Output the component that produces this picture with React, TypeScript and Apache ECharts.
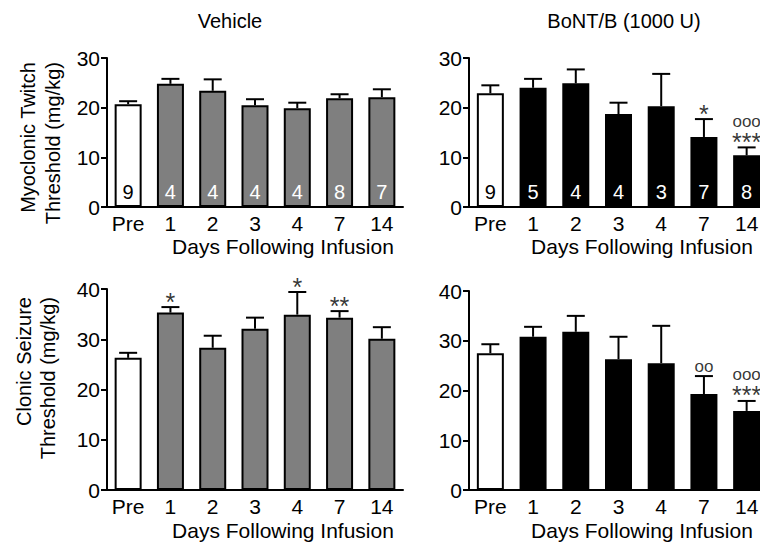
import React, { useEffect, useRef } from "react";
import * as echarts from "echarts";

const categories = ["Pre", "1", "2", "3", "4", "7", "14"];

const vehTwitchMean = [20.7, 24.8, 23.4, 20.5, 19.9, 21.9, 22.1];
const vehTwitchSem = [0.6, 1.0, 2.3, 1.2, 1.1, 0.8, 1.6];
const vehTwitchN = ["9", "4", "4", "4", "4", "8", "7"];
const vehTwitchMarks = ["", "", "", "", "", "", ""];

const bontTwitchMean = [22.9, 24.0, 24.9, 18.7, 20.3, 14.1, 10.4];
const bontTwitchSem = [1.6, 1.8, 2.8, 2.3, 6.5, 3.6, 1.6];
const bontTwitchN = ["9", "5", "4", "4", "3", "7", "8"];
const bontTwitchMarks = ["", "", "", "", "", "*", "ooo\n***"];

const vehClonicMean = [26.3, 35.3, 28.3, 32.1, 34.9, 34.3, 30.1];
const vehClonicSem = [1.0, 1.1, 2.4, 2.2, 4.5, 1.3, 2.3];
const vehClonicMarks = ["", "*", "", "", "*", "**", ""];

const bontClonicMean = [27.5, 30.8, 31.8, 26.3, 25.5, 19.3, 15.9];
const bontClonicSem = [1.8, 2.0, 3.2, 4.5, 7.5, 3.6, 2.0];
const bontClonicMarks = ["", "", "", "", "", "oo", "ooo\n***"];

const yMaxTop = 30;
const yMaxBottom = 40;
const yInterval = 10;

const FONT = "Liberation Sans, Arial, Helvetica, sans-serif";

type Panel = {
  mean: number[];
  sem: number[];
  n: string[] | null;
  marks: string[];
  color: string;
  max: number;
  grid: { left: number; top: number; width: number; height: number };
};

const panels: Panel[] = [
  { mean: vehTwitchMean, sem: vehTwitchSem, n: vehTwitchN, marks: vehTwitchMarks, color: "#7f7f7f", max: yMaxTop, grid: { left: 107, top: 58, width: 296, height: 149 } },
  { mean: bontTwitchMean, sem: bontTwitchSem, n: bontTwitchN, marks: bontTwitchMarks, color: "#000000", max: yMaxTop, grid: { left: 469, top: 58, width: 299, height: 149 } },
  { mean: vehClonicMean, sem: vehClonicSem, n: null, marks: vehClonicMarks, color: "#7f7f7f", max: yMaxBottom, grid: { left: 107, top: 289, width: 296, height: 201 } },
  { mean: bontClonicMean, sem: bontClonicSem, n: null, marks: bontClonicMarks, color: "#000000", max: yMaxBottom, grid: { left: 469, top: 291, width: 299, height: 199 } },
];

function markFormatter(m: string) {
  return m
    .split("\n")
    .map((line) => (line.startsWith("o") ? `{o|${line}}` : `{s|${line}}`))
    .join("\n");
}

function buildOption() {
  const grid: any[] = [];
  const xAxis: any[] = [];
  const yAxis: any[] = [];
  const series: any[] = [];

  panels.forEach((p, gi) => {
    grid.push({ ...p.grid, containLabel: false });
    xAxis.push({
      type: "category",
      gridIndex: gi,
      data: categories,
      axisLine: { show: true, lineStyle: { color: "#000", width: 2 } },
      axisTick: { show: false },
      axisLabel: { interval: 0, color: "#000", fontSize: 21, fontFamily: FONT, margin: 6 },
      splitLine: { show: false },
    });
    yAxis.push({
      type: "value",
      gridIndex: gi,
      min: 0,
      max: p.max,
      interval: yInterval,
      axisLine: { show: true, lineStyle: { color: "#000", width: 2 } },
      axisTick: { show: true, inside: false, length: 6, lineStyle: { color: "#000", width: 2 } },
      axisLabel: { color: "#000", fontSize: 21, fontFamily: FONT, margin: 7 },
      splitLine: { show: false },
    });

    series.push({
      type: "bar",
      xAxisIndex: gi,
      yAxisIndex: gi,
      barWidth: 27,
      z: 2,
      data: p.mean.map((v, i) => ({
        value: v,
        itemStyle: { color: i === 0 ? "#ffffff" : p.color, borderColor: "#000", borderWidth: 2 },
        label: {
          show: !!p.n,
          position: "insideBottom",
          distance: 5,
          formatter: p.n ? p.n[i] : "",
          color: i === 0 ? "#000" : "#fff",
          fontSize: 20,
          fontFamily: FONT,
        },
      })),
    });

    series.push({
      type: "custom",
      xAxisIndex: gi,
      yAxisIndex: gi,
      z: 3,
      data: p.mean.map((v, i) => [i, v, v + p.sem[i]]),
      renderItem: (params: any, api: any) => {
        const base = api.coord([api.value(0), api.value(1)]);
        const top = api.coord([api.value(0), api.value(2)]);
        const style = { stroke: "#000", lineWidth: 2 };
        return {
          type: "group",
          children: [
            { type: "line", shape: { x1: base[0], y1: base[1], x2: top[0], y2: top[1] }, style },
            { type: "line", shape: { x1: top[0] - 9, y1: top[1], x2: top[0] + 9, y2: top[1] }, style },
          ],
        };
      },
    });

    series.push({
      type: "scatter",
      xAxisIndex: gi,
      yAxisIndex: gi,
      symbolSize: 1,
      itemStyle: { color: "rgba(0,0,0,0)" },
      z: 4,
      data: p.mean.map((v, i) => ({
        value: [i, v + p.sem[i]],
        label: {
          show: p.marks[i] !== "",
          position: "top",
          distance: -3,
          formatter: markFormatter(p.marks[i]),
          color: "#000",
          fontFamily: FONT,
          rich: {
            o: { fontSize: 17, lineHeight: 25, color: "#000", fontFamily: FONT },
            s: { fontSize: 25, lineHeight: 16, color: "#000", fontFamily: FONT },
          },
        },
      })),
    });
  });

  const txt = (x: number, y: number, text: string, size: number) => ({
    type: "text",
    x,
    y,
    style: { text, fill: "#000", font: `${size}px ${FONT}`, textAlign: "center", textVerticalAlign: "middle" },
  });

  const rot = (x: number, y: number, text: string, size: number) => ({
    type: "text",
    x,
    y,
    rotation: Math.PI / 2,
    style: { text, fill: "#000", font: `${size}px ${FONT}`, textAlign: "right", textVerticalAlign: "middle" },
  });

  const graphic = [
    txt(230, 21, "Vehicle", 20),
    txt(624, 21, "BoNT/B (1000 U)", 20),
    txt(283, 246, "Days Following Infusion", 21),
    txt(642, 246, "Days Following Infusion", 21),
    txt(283, 530, "Days Following Infusion", 21),
    txt(642, 530, "Days Following Infusion", 21),
    rot(28, 62, "Myoclonic Twitch", 20),
    rot(53, 62, "Threshold (mg/kg)", 20),
    rot(24, 297, "Clonic Seizure", 20),
    rot(48, 297, "Threshold (mg/kg)", 20),
  ];

  return {
    animation: false,
    backgroundColor: "#ffffff",
    grid,
    xAxis,
    yAxis,
    series,
    graphic,
  };
}

export default function App() {
  const ref = useRef<HTMLDivElement | null>(null);
  useEffect(() => {
    if (!ref.current) return;
    const chart = echarts.init(ref.current, undefined, { renderer: "svg" });
    chart.setOption(buildOption() as any);
    return () => chart.dispose();
  }, []);
  return (
    <div
      style={{ position: "absolute", left: 0, top: 0, width: 760, height: 547, overflow: "hidden", background: "#fff" }}
    >
      <div ref={ref} style={{ width: 790, height: 547, background: "#fff" }} />
    </div>
  );
}
